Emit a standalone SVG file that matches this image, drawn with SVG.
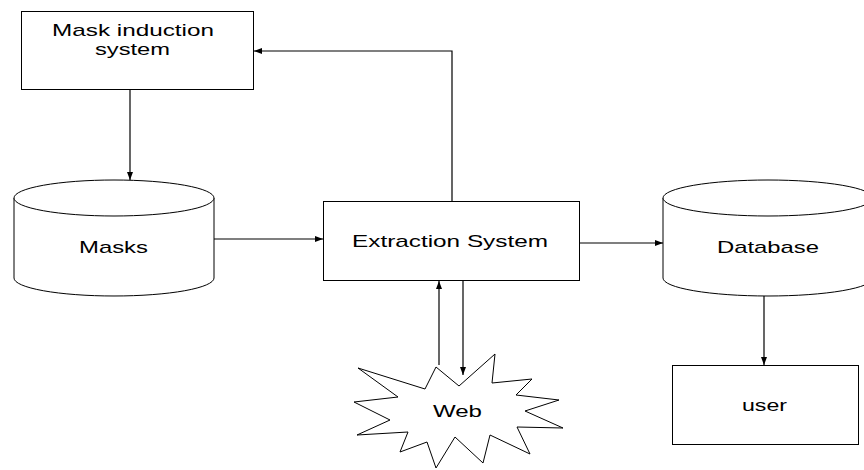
<svg xmlns="http://www.w3.org/2000/svg" width="864" height="470" viewBox="0 0 864 470">
<defs>
<marker id="ah" markerWidth="8" markerHeight="6" refX="8" refY="3" orient="auto" markerUnits="userSpaceOnUse">
<path d="M0,0 L8,3 L0,6 z" fill="#000"/>
</marker>
<style>
.shape{fill:#fff;stroke:#000;stroke-width:1}
.conn{fill:none;stroke:#000;stroke-width:1.2;marker-end:url(#ah)}
text{font-family:"Liberation Sans",Arial,sans-serif;font-size:17px;fill:#000}
</style>
</defs>
<rect width="864" height="470" fill="#fff"/>
<g id="connectors">
<path class="conn" d="M130,89 V180"/>
<path class="conn" d="M452,201 V51 H254"/>
<path class="conn" d="M214,239 H323"/>
<path class="conn" d="M579,243 H663"/>
<path class="conn" d="M764,296 V365"/>
<path class="conn" d="M439,365 V281"/>
<path class="conn" d="M463,280 V375"/>
</g>
<g id="mask-induction">
<rect class="shape" x="21.5" y="11.5" width="232" height="78"/>
<text x="52" y="36" textLength="162" lengthAdjust="spacingAndGlyphs">Mask induction</text>
<text x="95" y="55" textLength="75" lengthAdjust="spacingAndGlyphs">system</text>
</g>
<g id="masks">
<path class="shape" d="M14,198 V278 A100,18 0 0 0 214,278 V198"/>
<ellipse class="shape" cx="114" cy="198" rx="100" ry="18"/>
<text x="79" y="253" textLength="69" lengthAdjust="spacingAndGlyphs">Masks</text>
</g>
<g id="extraction">
<rect class="shape" x="323.5" y="201.5" width="256" height="79"/>
<text x="352" y="247" textLength="196" lengthAdjust="spacingAndGlyphs">Extraction System</text>
</g>
<g id="database">
<path class="shape" d="M663,198 V278 A105,18 0 0 0 873,278 V198"/>
<ellipse class="shape" cx="768" cy="198" rx="105" ry="18"/>
<text x="717" y="253" textLength="102" lengthAdjust="spacingAndGlyphs">Database</text>
</g>
<g id="user">
<rect class="shape" x="672.5" y="365.5" width="186" height="79"/>
<text x="742" y="411" textLength="45" lengthAdjust="spacingAndGlyphs">user</text>
</g>
<g id="web">
<polygon class="shape" points="358,368 425,389 436,367 459,386 495,354 492,383 532,379 516,395 559,400 525,411 563,428 517,427 530,454 490,435 483,463 455,437 436,468 427,442 400,452 408,432 357,435 390,420 354,402 398,397"/>
<text x="433" y="417" textLength="49" lengthAdjust="spacingAndGlyphs">Web</text>
</g>
</svg>
